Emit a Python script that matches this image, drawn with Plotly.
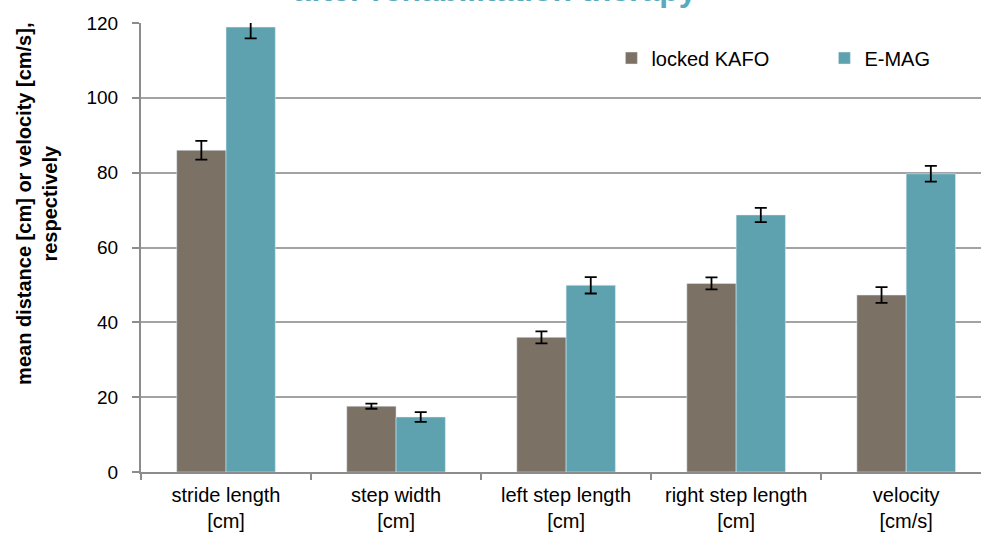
import plotly.graph_objects as go

categories = ["stride length<br>[cm]", "step width<br>[cm]", "left step length<br>[cm]",
              "right step length<br>[cm]", "velocity<br>[cm/s]"]
kafo_vals = [86.0, 17.6, 36.0, 50.4, 47.3]
kafo_err = [2.5, 0.7, 1.6, 1.6, 2.1]
emag_vals = [118.9, 14.7, 49.9, 68.7, 79.7]
emag_err = [3.0, 1.3, 2.2, 1.9, 2.1]
yticks = [0, 20, 40, 60, 80, 100, 120]

KAFO_COLOR = "#7b7265"
EMAG_COLOR = "#5ea2b0"
FONT = "Liberation Sans, Arial, sans-serif"

fig = go.Figure()
fig.add_trace(go.Bar(
    name="locked KAFO", x=categories, y=kafo_vals, marker_color=KAFO_COLOR,
    error_y=dict(type="data", array=kafo_err, color="black", thickness=1.8, width=6),
))
fig.add_trace(go.Bar(
    name="E-MAG", x=categories, y=emag_vals, marker_color=EMAG_COLOR,
    error_y=dict(type="data", array=emag_err, color="black", thickness=1.8, width=6),
))

fig.update_layout(
    width=981, height=534,
    margin=dict(l=141, r=0, t=23, b=62, autoexpand=False),
    plot_bgcolor="white", paper_bgcolor="white",
    barmode="group", bargap=0.42, bargroupgap=0,
    font=dict(family=FONT, size=19, color="black"),
    showlegend=True,
    legend=dict(orientation="h", x=0.56, y=0.922, xanchor="left", yanchor="middle",
                entrywidth=168, entrywidthmode="pixels",
                font=dict(family=FONT, size=20), bgcolor="rgba(0,0,0,0)",
                traceorder="normal"),
    xaxis=dict(range=[-0.5, 4.44], showline=True, linecolor="#8c8c8c", linewidth=2,
               ticks="outside", tickson="boundaries", ticklen=6, tickcolor="#8c8c8c",
               tickwidth=1.5, tickangle=0, automargin=False, ticklabelstandoff=4,
               tickfont=dict(family=FONT, size=20), showgrid=False),
    yaxis=dict(range=[0, 120], tickvals=yticks, showline=True, linecolor="#8c8c8c",
               linewidth=2, ticks="outside", ticklen=7, tickcolor="#8c8c8c", tickwidth=1.5,
               showgrid=True, gridcolor="#a3a3a3", gridwidth=2, zeroline=False,
               automargin=False, ticklabelstandoff=10, tickfont=dict(family=FONT, size=19)),
    annotations=[
        dict(text="<b>after rehabilitation therapy</b>", xref="paper", yref="paper",
             x=(495 - 141) / 840, y=1.028, xanchor="center", yanchor="bottom",
             showarrow=False, font=dict(family=FONT, size=32, color="#5aaabb")),
        dict(text="<b>mean distance [cm] or velocity [cm/s],<br>respectively</b>",
             xref="paper", yref="paper", x=(37.5 - 141) / 840, y=0.596,
             xanchor="center", yanchor="middle", textangle=-90, showarrow=False,
             font=dict(family=FONT, size=20, color="black")),
    ],
)

fig.write_html("out.html")
